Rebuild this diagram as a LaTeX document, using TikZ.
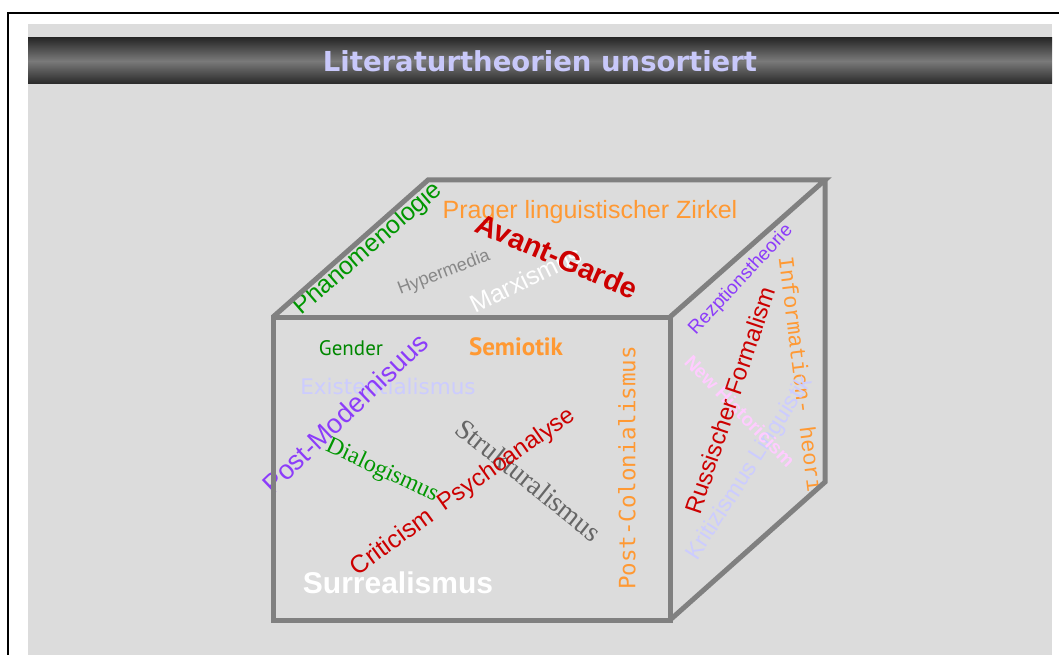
\documentclass[tikz,border=0pt]{standalone}
\usepackage{fontspec}
\setmainfont{Liberation Sans}
\newfontfamily\arialf{Liberation Sans}
\newfontfamily\timesf{Liberation Serif}
\newfontfamily\courf{Liberation Mono}
\newfontfamily\verdf{DejaVu Sans}
\newfontfamily\monof{DejaVu Sans Mono}
\newfontfamily\tahof{PT Sans}
\newcommand{\fs}[1]{\fontsize{#1}{#1}\selectfont}
\definecolor{panelgray}{RGB}{220,220,220}
\definecolor{cubegray}{RGB}{128,128,128}
\definecolor{bardark}{RGB}{40,40,40}
\definecolor{barmid}{RGB}{122,122,122}
\definecolor{titlelav}{RGB}{200,200,250}
\definecolor{tgreen}{RGB}{0,150,0}
\definecolor{torange}{RGB}{255,153,51}
\definecolor{tred}{RGB}{204,0,0}
\definecolor{tgray}{RGB}{136,136,136}
\definecolor{tdgray}{RGB}{102,102,102}
\definecolor{tpurple}{RGB}{140,60,250}
\definecolor{tlav}{RGB}{204,204,255}
\definecolor{tpink}{RGB}{255,204,255}
\tikzset{
word/.style={inner sep=0pt,anchor=center},
cubeline/.style={draw=cubegray,line width=5pt,line join=miter},
titlebar/.style={top color=bardark,bottom color=bardark,middle color=barmid},
frameline/.style={draw=black,line width=2pt}
}

\begin{document}
\begin{tikzpicture}[x=1pt,y=-1pt]
\useasboundingbox (0,0) rectangle (1059,655);
% frame and panel
\fill[panelgray] (28,24) rectangle (1052,655);
\draw[frameline] (8,655) -- (8,13) -- (1059,13);
\shade[titlebar] (28,38) rectangle (1052,84);
\node[word,font=\verdf\bfseries\fs{27.5},text=titlelav] (title) at (540,61) {Literaturtheorien unsortiert};
% cube corners
\coordinate (fa) at (273,317);
\coordinate (fb) at (670,317);
\coordinate (fc) at (670,620);
\coordinate (fd) at (273,620);
\coordinate (ba) at (428,180);
\coordinate (bb) at (825,180);
\coordinate (bc) at (825,482);
% top face
\node[word,font=\arialf\fs{25},text=tgreen,rotate=41] (phaen) at (368,249) {Phänomenologie};
\node[word,font=\arialf\fs{25},text=torange] (prager) at (590,212) {Prager linguistischer Zirkel};
\node[word,font=\arialf\fs{18},text=tgray,rotate=21] (hyper) at (444,273) {Hypermedia};
\node[word,font=\arialf\fs{25},text=white,rotate=26] (marx) at (526,279) {Marxismus};
\node[word,font=\arialf\bfseries\fs{29},text=tred,rotate=-23.5] (avant) at (557,256) {Avant-Garde};
% front face
\node[word,font=\tahof\fs{21},text=tgreen!90!black] (gender) at (351,348) {Gender};
\node[word,font=\tahof\bfseries\fs{25},text=torange] (semio) at (516,347) {Semiotik};
\node[word,font=\verdf\fs{21.5},text=tlav] (exist) at (388,386) {Existentialismus};
\node[word,font=\arialf\fs{27},text=tpurple,rotate=43.7] (postmod) at (345,413) {Post-Modernisuus};
\node[word,font=\timesf\fs{24},text=tgreen,rotate=-25] (dialog) at (382,471) {Dialogismus};
\node[word,font=\timesf\fs{28},text=tdgray,rotate=-38.6] (struk) at (529,480) {Strukturalismus};
\node[word,font=\arialf\fs{24},text=tred,rotate=35.2] (psycho) at (507,460) {Psychoanalyse};
\node[word,font=\arialf\fs{25},text=tred,rotate=36] (critic) at (391,541) {Criticism};
\node[word,font=\arialf\bfseries\fs{30},text=white] (surreal) at (398,583) {Surrealismus};
\node[word,font=\monof\fs{22.5},text=torange,rotate=90] (postcol) at (627,468) {Post-Colonialismus};
% right face
\node[word,font=\arialf\fs{19},text=tpurple,rotate=47] (rezep) at (741,280) {Rezptionstheorie};
\node[word,font=\courf\fs{22},text=torange,rotate=-83] (inform) at (801,374) {Information- heori};
\node[word,font=\arialf\fs{23},text=tlav,rotate=57.4] (kritiz) at (750,468) {Kritizismus Linguistik};
\node[word,font=\arialf\bfseries\fs{19},text=tpink,rotate=-45.5] (newhist) at (740,411) {New Historicism};
\node[word,font=\arialf\fs{24},text=tred,rotate=71.4] (russ) at (730,400) {Russischer Formalism};
% cube edges
\draw[cubeline] (fa) -- (fb) -- (fc) -- (fd) -- cycle;
\draw[cubeline] (fa) -- (ba) -- (bb) -- (fb);
\draw[cubeline] (bb) -- (bc) -- (fc);
\end{tikzpicture}
\end{document}
